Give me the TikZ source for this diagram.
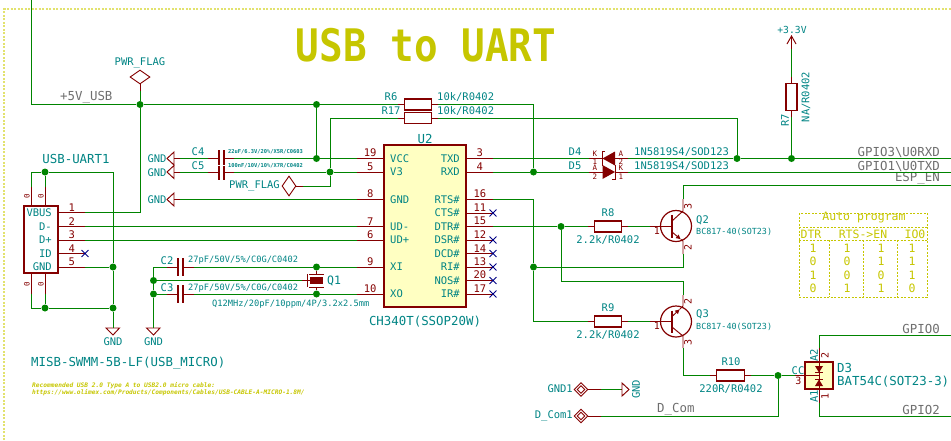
\documentclass[tikz,border=0pt]{standalone}
\usepackage{fontspec}
\setmainfont{DejaVu Sans Mono}
\usepackage{tikz}
\usetikzlibrary{calc}
\usetikzlibrary{arrows.meta}
\usetikzlibrary{shapes.geometric}
\usetikzlibrary{shapes.misc}

\definecolor{wirecol}{RGB}{0,132,0}
\definecolor{pincol}{RGB}{132,0,0}
\definecolor{refcol}{RGB}{0,132,132}
\definecolor{netcol}{RGB}{110,110,110}
\definecolor{notecol}{RGB}{198,198,0}
\definecolor{framecol}{RGB}{226,226,110}
\definecolor{bodycol}{RGB}{255,255,194}
\definecolor{nccol}{RGB}{0,0,132}

\tikzset{
  wire/.style={draw=wirecol,line width=0.95pt},
  pinline/.style={draw=pincol,line width=0.95pt},
  outline/.style={draw=pincol,line width=1.2pt},
  frame/.style={draw=framecol,line width=1.3pt,dash pattern=on 2pt off 1.5pt},
  tabline/.style={draw=notecol,line width=1pt,dash pattern=on 2pt off 1.5pt},
  dot/.style={circle,fill=wirecol,inner sep=0pt,minimum size=7pt},
  res/.style={rectangle,draw=pincol,line width=1.1pt,inner sep=0pt,minimum width=27.5pt,minimum height=11pt},
  ic/.style={rectangle,draw=pincol,line width=1.3pt,fill=bodycol,inner sep=0pt},
  flag/.style={diamond,draw=pincol,line width=0.9pt,inner sep=0pt,aspect=1.4,minimum width=20pt,minimum height=14pt},
  port/.style={diamond,draw=pincol,line width=0.9pt,inner sep=0pt,minimum size=#1},
  ncmark/.style={cross out,draw=nccol,line width=0.9pt,inner sep=0pt,minimum size=6pt},
  txt/.style={inner sep=0pt,text=refcol,font=\fontsize{10.5}{12}\selectfont},
  big/.style={inner sep=0pt,text=refcol,font=\fontsize{12.4}{14}\selectfont},
  mid/.style={inner sep=0pt,text=refcol,font=\fontsize{8.7}{10}\selectfont},
  tiny/.style={inner sep=0pt,text=refcol,font=\bfseries\fontsize{5.4}{6}\selectfont},
  pinno/.style={inner sep=0pt,above=1pt,text=pincol,font=\fontsize{10.5}{12}\selectfont},
  pinlab/.style={inner sep=0pt,text=pincol,font=\fontsize{7.5}{9}\selectfont},
  pinsmall/.style={inner sep=0pt,text=pincol,font=\fontsize{10}{12}\selectfont},
  net/.style={inner sep=0pt,text=netcol,font=\fontsize{12.4}{14}\selectfont},
  note/.style={inner sep=0pt,text=notecol,font=\fontsize{11.5}{14}\selectfont},
}

\begin{document}
\begin{tikzpicture}[x=1pt,y=-1pt]
  \useasboundingbox (0,0) rectangle (951,440);
  % sheet frame
  \draw[frame] (4,440) -- (4,9) -- (951,9);
  \node[inner sep=0pt,text=notecol,font=\bfseries\fontsize{39.3}{40}\selectfont] (title) at (426,45) {\scalebox{1}[1.14]{USB to UART}};

  % junctions
  \node[dot] (jFlag) at (140,104.5) {};
  \node[dot] (jVcc) at (316.5,104.5) {};
  \node[dot] (jC4) at (316.5,158.5) {};
  \node[dot] (jV3) at (330,172) {};
  \node[dot] (jShTop) at (45,172) {};
  \node[dot] (jGndA) at (113,267) {};
  \node[dot] (jShBot) at (45,308) {};
  \node[dot] (jGndB) at (113,308) {};
  \node[dot] (jXa) at (153.5,280.5) {};
  \node[dot] (jXb) at (153.5,294) {};
  \node[dot] (jQa) at (316.5,267) {};
  \node[dot] (jQb) at (316.5,294) {};
  \node[dot] (jRxd) at (533.5,172) {};
  \node[dot] (jDtr) at (561,226.5) {};
  \node[dot] (jRts) at (533.5,267) {};
  \node[dot] (jRk) at (737,158.5) {};
  \node[dot] (jRs) at (791.5,158.5) {};
  \node[dot] (jCom) at (778,375.5) {};

  % USB connector
  \node[ic,fill=white,minimum width=34pt,minimum height=67pt] (USB) at (41,239.5) {};
  \coordinate (USBp1) at (85,212.5);
  \coordinate (USBp2) at (85,226.5);
  \coordinate (USBp3) at (85,240);
  \coordinate (USBp4) at (85,253.5);
  \coordinate (USBp5) at (85,267);
  \draw[pinline] (USBp1) -- node[pinno] (nU1) {1} (USBp1 -| USB.east);
  \draw[pinline] (USBp2) -- node[pinno] (nU2) {2} (USBp2 -| USB.east);
  \draw[pinline] (USBp3) -- node[pinno] (nU3) {3} (USBp3 -| USB.east);
  \draw[pinline] (USBp4) -- node[pinno] (nU4) {4} (USBp4 -| USB.east);
  \draw[pinline] (USBp5) -- node[pinno] (nU5) {5} (USBp5 -| USB.east);
  \node[ncmark] (xU4) at (USBp4) {};
  \node[txt,anchor=east] (tVbus) at (52,212.5) {VBUS};
  \node[txt,anchor=east] (tDm) at (52,226.5) {D-};
  \node[txt,anchor=east] (tDp) at (52,240) {D+};
  \node[txt,anchor=east] (tId) at (52,253.5) {ID};
  \node[txt,anchor=east] (tGnd) at (52,267) {GND};
  \coordinate (mT1) at (31,187);
  \coordinate (mT2) at (45,187);
  \coordinate (mB1) at (31,294);
  \coordinate (mB2) at (45,294);
  \draw[pinline] (mT1) -- (mT1 |- USB.north);
  \draw[pinline] (mT2) -- (mT2 |- USB.north);
  \draw[pinline] (mB1) -- (mB1 |- USB.south);
  \draw[pinline] (mB2) -- (mB2 |- USB.south);
  \node[pinlab,rotate=90] (nT1) at (27,196) {0};
  \node[pinlab,rotate=90] (nT2) at (41,196) {0};
  \node[pinlab,rotate=90] (nB1) at (27,284) {0};
  \node[pinlab,rotate=90] (nB2) at (41,284) {0};
  \node[big] (rUsb) at (76,159) {USB-UART1};
  \node[big,anchor=west] (vUsb) at (31,363) {MISB-SWMM-5B-LF(USB\_MICRO)};
  \node[inner sep=0pt,text=notecol,anchor=west,font=\bfseries\itshape\fontsize{6.2}{7}\selectfont] (noteA) at (32,386) {Recommended USB 2.0 Type A to USB2.0 micro cable:};
  \node[inner sep=0pt,text=notecol,anchor=west,font=\bfseries\itshape\fontsize{6.2}{7}\selectfont] (noteB) at (32,393) {https://www.olimex.com/Products/Components/Cables/USB-CABLE-A-MICRO-1.8M/};

  % power flags
  \node[flag] (pfA) at (140,77) {};
  \coordinate (pfAp) at (140,91);
  \draw[pinline] (pfA) -- (pfAp);
  \node[txt] (tPfA) at (140,63) {PWR\_FLAG};
  \node[flag,minimum width=14pt,minimum height=20pt,aspect=0.7] (pfB) at (289,186) {};
  \coordinate (pfBp) at (303,186);
  \draw[pinline] (pfB) -- (pfBp);
  \node[txt,anchor=east] (tPfB) at (280,186) {PWR\_FLAG};

  % GND symbols
  \draw[pinline] (174,152) -- (167,158.5) -- (174,165) -- cycle;
  \draw[pinline] (174,165.5) -- (167,172) -- (174,178.5) -- cycle;
  \draw[pinline] (174,193) -- (167,199.5) -- (174,206) -- cycle;
  \coordinate (gC4) at (180,158.5);
  \coordinate (gC5) at (180,172);
  \coordinate (gU2) at (180,199.5);
  \draw[pinline] (174,158.5) -- (gC4);
  \draw[pinline] (174,172) -- (gC5);
  \draw[pinline] (174,199.5) -- (gU2);
  \node[txt] (tGa) at (157,159) {GND};
  \node[txt] (tGb) at (157,173) {GND};
  \node[txt] (tGc) at (157,200) {GND};
  \draw[pinline] (106,328) -- (119.5,328) -- (113,335) -- cycle;
  \draw[pinline] (146.5,328) -- (160,328) -- (153.5,335) -- cycle;
  \coordinate (gUsb) at (113,328);
  \coordinate (gXt) at (153.5,328);
  \node[txt] (tGd) at (113,342) {GND};
  \node[txt] (tGe) at (153.5,342) {GND};

  % C4 C5
  \coordinate (C4a) at (208,158.5);
  \coordinate (C4b) at (234,158.5);
  \coordinate (C5a) at (208,172);
  \coordinate (C5b) at (234,172);
  \draw[pinline] (C4a) -- (219,158.5);
  \draw[pinline] (224,158.5) -- (C4b);
  \draw[pinline] (C5a) -- (219,172);
  \draw[pinline] (224,172) -- (C5b);
  \draw[outline] (219,150) -- (219,164.5);
  \draw[outline] (224,150) -- (224,164.5);
  \draw[outline] (219,165.5) -- (219,180);
  \draw[outline] (224,165.5) -- (224,180);
  \node[txt] (rC4) at (198,152) {C4};
  \node[txt] (rC5) at (198,166) {C5};
  \node[tiny,anchor=west] (vC4) at (228,152) {22uF/6.3V/20\%/X5R/C0603};
  \node[tiny,anchor=west] (vC5) at (228,165.5) {100nF/10V/10\%/X7R/C0402};

  % C2 C3 Q1
  \coordinate (C2a) at (167,267);
  \coordinate (C2b) at (194,267);
  \coordinate (C3a) at (167,294);
  \coordinate (C3b) at (194,294);
  \draw[pinline] (C2a) -- (178,267);
  \draw[pinline] (183,267) -- (C2b);
  \draw[pinline] (C3a) -- (178,294);
  \draw[pinline] (183,294) -- (C3b);
  \draw[outline] (178,258) -- (178,276);
  \draw[outline] (183,258) -- (183,276);
  \draw[outline] (178,285) -- (178,303);
  \draw[outline] (183,285) -- (183,303);
  \node[txt] (rC2) at (167,260.5) {C2};
  \node[txt] (rC3) at (167,288) {C3};
  \node[mid,anchor=west] (vC2) at (188,260.5) {27pF/50V/5\%/C0G/C0402};
  \node[mid,anchor=west] (vC3) at (188,288) {27pF/50V/5\%/C0G/C0402};
  \coordinate (Q1p) at (302,280.5);
  \draw[pinline] (Q1p) -- (310,280.5);
  \draw[pinline] (jQa) -- (316.5,274);
  \draw[pinline] (jQb) -- (316.5,287);
  \draw[pinline] (309,274) -- (324,274);
  \draw[pinline] (309,287) -- (324,287);
  \draw[pinline] (307,274) -- (307,287);
  \fill[pincol] (310,277) rectangle (323,284);
  \node[big,font=\fontsize{11.5}{14}\selectfont] (rQ1) at (334,281) {Q1};
  \node[mid,anchor=west] (vQ1) at (212,304) {Q12MHz/20pF/10ppm/4P/3.2x2.5mm};

  % U2
  \node[ic,minimum width=82pt,minimum height=162pt] (U2) at (425,226) {};
  \coordinate (U2p19) at (357,158.5);
  \coordinate (U2p5) at (357,172);
  \coordinate (U2p8) at (357,199.5);
  \coordinate (U2p7) at (357,226.5);
  \coordinate (U2p6) at (357,240);
  \coordinate (U2p9) at (357,267);
  \coordinate (U2p10) at (357,294);
  \coordinate (U2p3) at (493,158.5);
  \coordinate (U2p4) at (493,172);
  \coordinate (U2p16) at (493,199.5);
  \coordinate (U2p11) at (493,213);
  \coordinate (U2p15) at (493,226.5);
  \coordinate (U2p12) at (493,240);
  \coordinate (U2p14) at (493,253.5);
  \coordinate (U2p13) at (493,267);
  \coordinate (U2p20) at (493,280.5);
  \coordinate (U2p17) at (493,294);
  \draw[pinline] (U2p19) -- node[pinno] (n19) {19} (U2p19 -| U2.west);
  \draw[pinline] (U2p5) -- node[pinno] (n5) {5} (U2p5 -| U2.west);
  \draw[pinline] (U2p8) -- node[pinno] (n8) {8} (U2p8 -| U2.west);
  \draw[pinline] (U2p7) -- node[pinno] (n7) {7} (U2p7 -| U2.west);
  \draw[pinline] (U2p6) -- node[pinno] (n6) {6} (U2p6 -| U2.west);
  \draw[pinline] (U2p9) -- node[pinno] (n9) {9} (U2p9 -| U2.west);
  \draw[pinline] (U2p10) -- node[pinno] (n10) {10} (U2p10 -| U2.west);
  \draw[pinline] (U2p3) -- node[pinno] (n3) {3} (U2p3 -| U2.east);
  \draw[pinline] (U2p4) -- node[pinno] (n4) {4} (U2p4 -| U2.east);
  \draw[pinline] (U2p16) -- node[pinno] (n16) {16} (U2p16 -| U2.east);
  \draw[pinline] (U2p11) -- node[pinno] (n11) {11} (U2p11 -| U2.east);
  \draw[pinline] (U2p15) -- node[pinno] (n15) {15} (U2p15 -| U2.east);
  \draw[pinline] (U2p12) -- node[pinno] (n12) {12} (U2p12 -| U2.east);
  \draw[pinline] (U2p14) -- node[pinno] (n14) {14} (U2p14 -| U2.east);
  \draw[pinline] (U2p13) -- node[pinno] (n13) {13} (U2p13 -| U2.east);
  \draw[pinline] (U2p20) -- node[pinno] (n20) {20} (U2p20 -| U2.east);
  \draw[pinline] (U2p17) -- node[pinno] (n17) {17} (U2p17 -| U2.east);
  \node[ncmark] (x11) at (U2p11) {};
  \node[ncmark] (x12) at (U2p12) {};
  \node[ncmark] (x14) at (U2p14) {};
  \node[ncmark] (x13) at (U2p13) {};
  \node[ncmark] (x20) at (U2p20) {};
  \node[ncmark] (x17) at (U2p17) {};
  \node[txt,anchor=west] (tVcc) at (390,158.5) {VCC};
  \node[txt,anchor=west] (tV3) at (390,172) {V3};
  \node[txt,anchor=west] (tGndU) at (390,199.5) {GND};
  \node[txt,anchor=west] (tUm) at (390,226.5) {UD-};
  \node[txt,anchor=west] (tUp) at (390,240) {UD+};
  \node[txt,anchor=west] (tXi) at (390,267) {XI};
  \node[txt,anchor=west] (tXo) at (390,294) {XO};
  \node[txt,anchor=east] (tTxd) at (460,158.5) {TXD};
  \node[txt,anchor=east] (tRxd) at (460,172) {RXD};
  \node[txt,anchor=east] (tRts) at (460,199.5) {RTS\#};
  \node[txt,anchor=east] (tCts) at (460,213) {CTS\#};
  \node[txt,anchor=east] (tDtr) at (460,226.5) {DTR\#};
  \node[txt,anchor=east] (tDsr) at (460,240) {DSR\#};
  \node[txt,anchor=east] (tDcd) at (460,253.5) {DCD\#};
  \node[txt,anchor=east] (tRi) at (460,267) {RI\#};
  \node[txt,anchor=east] (tNos) at (460,280.5) {NOS\#};
  \node[txt,anchor=east] (tIr) at (460,294) {IR\#};
  \node[big] (rU2) at (425,138.5) {U2};
  \node[big] (vU2) at (425,322) {CH340T(SSOP20W)};

  % pull-ups
  \node[res] (R6) at (418,104.5) {};
  \node[res] (R17) at (418,118) {};
  \draw[pinline] (R6.west) -- ++(-6,0) coordinate (R6a);
  \draw[pinline] (R6.east) -- ++(6,0) coordinate (R6b);
  \draw[pinline] (R17.west) -- ++(-6,0) coordinate (R17a);
  \draw[pinline] (R17.east) -- ++(6,0) coordinate (R17b);
  \node[txt] (rR6) at (391,97) {R6};
  \node[txt] (rR17) at (391,111) {R17};
  \node[txt,anchor=west] (vR6) at (437,97) {10k/R0402};
  \node[txt,anchor=west] (vR17) at (437,111) {10k/R0402};

  % D4 D5
  \coordinate (D4a) at (589,158.5);
  \coordinate (D4b) at (628,158.5);
  \coordinate (D5a) at (589,172);
  \coordinate (D5b) at (628,172);
  \draw[pinline] (D4a) -- (603,158.5);
  \draw[pinline] (615,158.5) -- (D4b);
  \draw[pinline] (D5a) -- (603,172);
  \draw[pinline] (615,172) -- (D5b);
  \fill[pincol] (602.5,158.5) -- (615,151.5) -- (615,165.5) -- cycle;
  \fill[pincol] (602.5,165) -- (615,172) -- (602.5,179) -- cycle;
  \draw[pinline] (605,151) -- (602,151) -- (602,166);
  \draw[pinline] (612,179.5) -- (615,179.5) -- (615,165);
  \node[txt] (rD4) at (575,152) {D4};
  \node[txt] (rD5) at (575,166) {D5};
  \node[pinlab] (kD4) at (595,153.5) {K};
  \node[pinlab] (oD4) at (595,161.5) {1};
  \node[pinlab] (aD4) at (621,153.5) {A};
  \node[pinlab] (tD4) at (621,161.5) {2};
  \node[pinlab] (aD5) at (595,168) {A};
  \node[pinlab] (tD5) at (595,176.5) {2};
  \node[pinlab] (kD5) at (621,168) {K};
  \node[pinlab] (oD5) at (621,176.5) {1};
  \node[txt,anchor=west] (vD4) at (634,152) {1N5819S4/SOD123};
  \node[txt,anchor=west] (vD5) at (634,166) {1N5819S4/SOD123};

  % R7
  \node[res,minimum width=11pt,minimum height=27.5pt] (R7) at (791.5,97) {};
  \draw[pinline] (R7.north) -- ++(0,-6) coordinate (R7a);
  \draw[pinline] (R7.south) -- ++(0,6) coordinate (R7b);
  \coordinate (pwrA) at (791.5,49);
  \draw[pinline] (pwrA) -- (791.5,36);
  \draw[pinline] (787,44) -- (791.5,36) -- (796,44);
  \node[txt,font=\fontsize{9.7}{12}\selectfont] (tPwr) at (792,30) {+3.3V};
  \node[txt,rotate=90] (rR7) at (785,120) {R7};
  \node[txt,rotate=90] (vR7) at (806,97) {NA/R0402};

  % net names
  \node[net,anchor=east] (tRx) at (940,152) {GPIO3\textbackslash U0RXD};
  \node[net,anchor=east] (tTx) at (940,166) {GPIO1\textbackslash U0TXD};
  \node[net,anchor=base east] (tEn) at (940,181.5) {ESP\_EN};
  \node[net,anchor=east] (tG0) at (940,329) {GPIO0};
  \node[net,anchor=east] (tG2) at (940,410) {GPIO2};
  \node[net,anchor=base west] (t5V) at (60,100.5) {+5V\_USB};
  \node[net,anchor=base west] (tCom) at (657,412.5) {D\_Com};

  % R8 R9 R10
  \node[res] (R8) at (608,226.5) {};
  \node[res] (R9) at (608,321.5) {};
  \node[res] (R10) at (730.5,375.5) {};
  \draw[pinline] (R8.west) -- ++(-6,0) coordinate (R8a);
  \draw[pinline] (R8.east) -- ++(6,0) coordinate (R8b);
  \draw[pinline] (R9.west) -- ++(-6,0) coordinate (R9a);
  \draw[pinline] (R9.east) -- ++(6,0) coordinate (R9b);
  \draw[pinline] (R10.west) -- ++(-6,0) coordinate (R10a);
  \draw[pinline] (R10.east) -- ++(6,0) coordinate (R10b);
  \node[txt] (rR8) at (608,213) {R8};
  \node[txt] (vR8) at (608,240) {2.2k/R0402};
  \node[txt] (rR9) at (608,308) {R9};
  \node[txt] (vR9) at (608,335) {2.2k/R0402};
  \node[txt] (rR10) at (731,362) {R10};
  \node[txt] (vR10) at (731,389) {220R/R0402};

  % Q2
  \draw[outline] (676,226) circle (15.5);
  \coordinate (Q2b) at (650,226.5);
  \coordinate (Q2c) at (683,199);
  \coordinate (Q2e) at (683,254);
  \draw[pinline] (Q2b) -- (672,226.5);
  \draw[outline,line width=1.8pt] (672,215) -- (672,238);
  \draw[pinline] (Q2c) -- (683,211) -- (672,221);
  \draw[pinline,-{Latex[length=5pt,width=5pt]}] (672,232) -- (681,239.5);
  \draw[pinline] (681,239.5) -- (683,241) -- (Q2e);
  \node[pinsmall,rotate=90] (n3Q2) at (688,206) {3};
  \node[pinsmall,rotate=90] (n2Q2) at (688,247) {2};
  \node[pinsmall] (n1Q2) at (657,231) {1};
  \node[txt,anchor=west] (rQ2) at (696,220) {Q2};
  \node[mid,anchor=west,font=\fontsize{8.4}{10}\selectfont] (vQ2) at (696,232) {BC817-40(SOT23)};

  % Q3
  \draw[outline] (676,321.5) circle (15.5);
  \coordinate (Q3b) at (650,321.5);
  \coordinate (Q3c) at (683,295);
  \coordinate (Q3e) at (683,348);
  \draw[pinline] (Q3b) -- (672,321.5);
  \draw[outline,line width=1.8pt] (672,310.5) -- (672,333);
  \draw[pinline,-{Latex[length=5pt,width=5pt]}] (672,316.5) -- (680,309);
  \draw[pinline] (680,309) -- (683,306) -- (Q3c);
  \draw[pinline] (672,327) -- (683,336) -- (Q3e);
  \node[pinsmall,rotate=90] (n2Q3) at (688,301) {2};
  \node[pinsmall,rotate=90] (n3Q3) at (688,342) {3};
  \node[pinsmall] (n1Q3) at (657,326) {1};
  \node[txt,anchor=west] (rQ3) at (696,314) {Q3};
  \node[mid,anchor=west,font=\fontsize{8.4}{10}\selectfont] (vQ3) at (696,327) {BC817-40(SOT23)};

  % D3
  \node[ic,minimum width=28pt,minimum height=27pt] (D3) at (819,375.5) {};
  \coordinate (D3c) at (795,375.5);
  \coordinate (D3t) at (819,348);
  \coordinate (D3u) at (819,403);
  \draw[pinline] (D3c) -- (819,375.5);
  \draw[pinline] (D3t) -- (819,372);
  \draw[pinline] (D3u) -- (819,380);
  \draw[pinline] (819,372) -- (819,380);
  \draw[pinline] (815,372.5) -- (823,372.5);
  \draw[pinline] (815,379.5) -- (823,379.5);
  \fill[pincol] (815,366) -- (823,366) -- (819,372.5) -- cycle;
  \fill[pincol] (815,386) -- (823,386) -- (819,379.5) -- cycle;
  \node[txt,rotate=90] (tA2) at (814,355.5) {A2};
  \node[pinsmall,rotate=90] (n2D3) at (825,355) {2};
  \node[txt,rotate=90] (tA1) at (814,396.5) {A1};
  \node[pinsmall,rotate=90] (n1D3) at (825,396) {1};
  \node[txt] (tCc) at (798,370.5) {CC};
  \node[pinsmall] (n3D3) at (798.5,380.5) {3};
  \node[big,anchor=west] (rD3) at (837,368) {D3};
  \node[big,anchor=west] (vD3) at (837,382) {BAT54C(SOT23-3)};

  % ports
  \node[port=14pt] (pGnd) at (581,389.5) {};
  \node[port=8pt] (pGndI) at (581,389.5) {};
  \node[port=14pt] (pCom) at (581,416) {};
  \node[port=8pt] (pComI) at (581,416) {};
  \coordinate (pGndP) at (601,389.5);
  \coordinate (pComP) at (601,416);
  \draw[pinline] (pGnd) -- (pGndP);
  \draw[pinline] (pCom) -- (pComP);
  \node[txt,anchor=east] (tGnd1) at (573,389) {GND1};
  \node[txt,anchor=east] (tCom1) at (573,416) {D\_Com1};
  \coordinate (gPort) at (621,389.5);
  \draw[pinline] (gPort) -- (622,389.5);
  \draw[pinline] (622,383) -- (629,389.5) -- (622,396) -- cycle;
  \node[txt,rotate=90] (tGf) at (636,389.5) {GND};

  % wires
  \coordinate (fiveTop) at (31,0);
  \draw[wire] (fiveTop) |- (jFlag);
  \draw[wire] (jFlag) -- (jVcc);
  \draw[wire] (jVcc) -- (R6a);
  \draw[wire] (jVcc) -- (jC4);
  \draw[wire] (jFlag) -- (pfAp);
  \draw[wire] (jFlag) |- (USBp1);
  \draw[wire] (R6b) -| (jRxd);
  \draw[wire] (R17a) -| (jV3);
  \draw[wire] (jV3) |- (pfBp);
  \draw[wire] (R17b) -| (jRk);
  \draw[wire] (C4b) -- (jC4);
  \draw[wire] (jC4) -- (U2p19);
  \draw[wire] (C5b) -- (jV3);
  \draw[wire] (jV3) -- (U2p5);
  \draw[wire] (gC4) -- (C4a);
  \draw[wire] (gC5) -- (C5a);
  \draw[wire] (gU2) -- (U2p8);
  \draw[wire] (USBp2) -- (U2p7);
  \draw[wire] (USBp3) -- (U2p6);
  \draw[wire] (USBp5) -- (jGndA);
  \draw[wire] (mT1) |- (jShTop);
  \draw[wire] (jShTop) -- (mT2);
  \draw[wire] (jShTop) -| (jGndA);
  \draw[wire] (jGndA) -- (jGndB);
  \draw[wire] (jGndB) -- (gUsb);
  \draw[wire] (mB1) |- (jShBot);
  \draw[wire] (jShBot) -- (mB2);
  \draw[wire] (jShBot) -- (jGndB);
  \draw[wire] (C2a) -| (jXa);
  \draw[wire] (jXa) -- (jXb);
  \draw[wire] (jXb) -- (gXt);
  \draw[wire] (jXa) -- (Q1p);
  \draw[wire] (jXb) -- (C3a);
  \draw[wire] (C2b) -- (jQa);
  \draw[wire] (jQa) -- (U2p9);
  \draw[wire] (C3b) -- (jQb);
  \draw[wire] (jQb) -- (U2p10);
  \draw[wire] (U2p3) -- (D4a);
  \draw[wire] (U2p4) -- (jRxd);
  \draw[wire] (jRxd) -- (D5a);
  \coordinate (rxEnd) at (951,158.5);
  \coordinate (txEnd) at (951,172);
  \coordinate (enEnd) at (951,185.5);
  \draw[wire] (D4b) -- (jRk);
  \draw[wire] (jRk) -- (jRs);
  \draw[wire] (jRs) -- (rxEnd);
  \draw[wire] (D5b) -- (txEnd);
  \draw[wire] (R7b) -- (jRs);
  \draw[wire] (pwrA) -- (R7a);
  \draw[wire] (Q2c) |- (enEnd);
  \draw[wire] (U2p16) -| (jRts);
  \draw[wire] (jRts) |- (R9a);
  \draw[wire] (jRts) -| (Q2e);
  \draw[wire] (U2p15) -- (jDtr);
  \draw[wire] (jDtr) -- (R8a);
  \coordinate (dtrBend) at (561,281);
  \draw[wire] (jDtr) -- (dtrBend);
  \draw[wire] (dtrBend) -| (Q3c);
  \draw[wire] (R8b) -- (Q2b);
  \draw[wire] (R9b) -- (Q3b);
  \draw[wire] (Q3e) |- (R10a);
  \draw[wire] (R10b) -- (jCom);
  \draw[wire] (jCom) -- (D3c);
  \draw[wire] (jCom) |- (pComP);
  \draw[wire] (pGndP) -- (gPort);
  \coordinate (g0End) at (951,335);
  \coordinate (g2End) at (951,416);
  \draw[wire] (D3t) |- (g0End);
  \draw[wire] (D3u) |- (g2End);

  % table
  \draw[tabline] (799,213) rectangle (927,297);
  \draw[tabline] (799,227) -- (927,227);
  \draw[tabline] (799,240) -- (927,240);
  \draw[tabline] (829,240) -- (829,297);
  \draw[tabline] (863,240) -- (863,297);
  \draw[tabline] (897,240) -- (897,297);
  \node[note] (tabHead) at (864,217.5) {Auto program};
  \node[note] (hDtr) at (811,234) {DTR};
  \node[note] (hRts) at (863,234) {RTS->EN};
  \node[note] (hIo) at (915,234) {IO0};
  \node[note] (a1) at (813,248) {1};
  \node[note] (a2) at (847,248) {1};
  \node[note] (a3) at (881,248) {1};
  \node[note] (a4) at (912,248) {1};
  \node[note] (b1) at (813,261) {0};
  \node[note] (b2) at (847,261) {0};
  \node[note] (b3) at (881,261) {1};
  \node[note] (b4) at (912,261) {1};
  \node[note] (c1) at (813,275) {1};
  \node[note] (c2) at (847,275) {0};
  \node[note] (c3) at (881,275) {0};
  \node[note] (c4) at (912,275) {1};
  \node[note] (d1) at (813,288) {0};
  \node[note] (d2) at (847,288) {1};
  \node[note] (d3) at (881,288) {1};
  \node[note] (d4) at (912,288) {0};
\end{tikzpicture}
\end{document}
